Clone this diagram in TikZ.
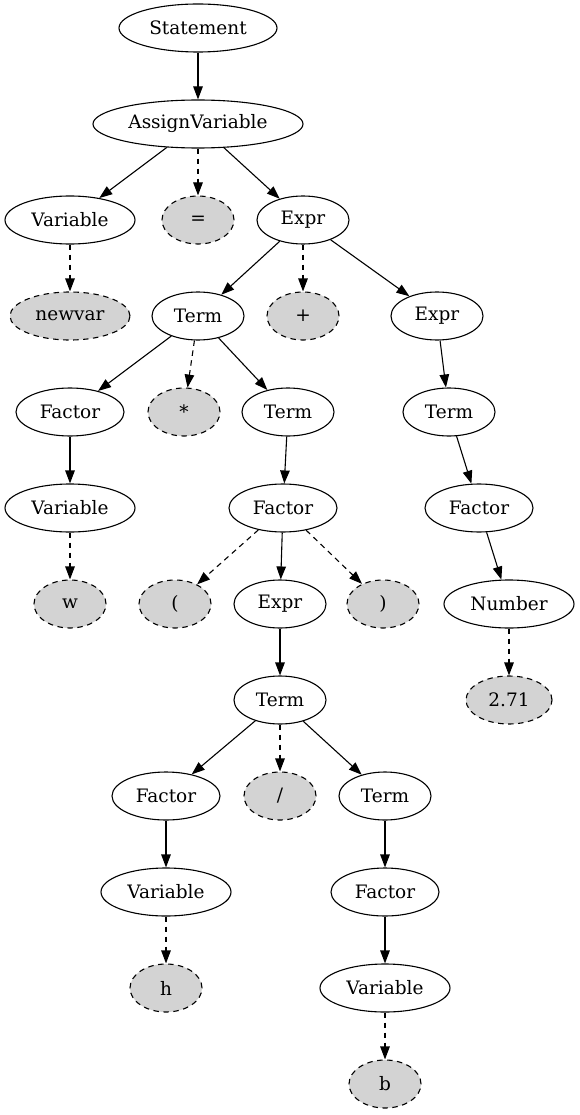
\documentclass[tikz,border=0pt]{standalone}
\usepackage{fontspec}
\setmainfont{DejaVu Serif}
\usetikzlibrary{shapes.geometric,arrows.meta}

\tikzset{
  nt/.style={ellipse, draw, line width=1.1pt, inner sep=0pt, minimum height=48pt},
  tok/.style={nt, fill=lightgray, dash pattern=on 5.5pt off 4.5pt},
  edge/.style={line width=1.1pt, -{Triangle[length=13pt,width=9.5pt]}},
  tokedge/.style={edge, dash pattern=on 5.5pt off 4.5pt},
}
\definecolor{lightgray}{HTML}{D3D3D3}

\begin{document}
\begin{tikzpicture}[x=1pt, y=-1pt, font=\fontsize{18.5}{21}\selectfont]
  \useasboundingbox (0, 0) rectangle (579, 1115);

  % nodes, row by row
  \node[nt, minimum width=158pt] (stmt) at (198, 28) {Statement};
  \node[nt, minimum width=210pt] (assign) at (198, 124) {AssignVariable};

  \node[nt, minimum width=130pt] (var1) at (70, 220) {Variable};
  \node[tok, minimum width=72pt] (eq) at (198, 220) {=};
  \node[nt, minimum width=92pt] (expr1) at (303, 220) {Expr};

  \node[tok, minimum width=120pt] (newvar) at (70, 316) {newvar};
  \node[nt, minimum width=92pt] (term1) at (198, 316) {Term};
  \node[tok, minimum width=72pt] (plus) at (303, 316) {+};
  \node[nt, minimum width=92pt] (expr2) at (437, 316) {Expr};

  \node[nt, minimum width=108pt] (fac1) at (70, 412) {Factor};
  \node[tok, minimum width=72pt] (star) at (184, 412) {*};
  \node[nt, minimum width=92pt] (term2) at (288, 412) {Term};
  \node[nt, minimum width=92pt] (term3) at (449, 412) {Term};

  \node[nt, minimum width=130pt] (var2) at (70, 508) {Variable};
  \node[nt, minimum width=108pt] (fac2) at (283, 508) {Factor};
  \node[nt, minimum width=108pt] (fac3) at (479, 508) {Factor};

  \node[tok, minimum width=72pt] (w) at (70, 604) {w};
  \node[tok, minimum width=72pt] (lpar) at (175, 604) {(};
  \node[nt, minimum width=92pt] (expr3) at (280, 604) {Expr};
  \node[tok, minimum width=72pt] (rpar) at (383, 604) {)};
  \node[nt, minimum width=130pt] (num) at (509, 604) {Number};

  \node[nt, minimum width=92pt] (term4) at (280, 700) {Term};
  \node[tok, minimum width=86pt] (val) at (509, 700) {2.71};

  \node[nt, minimum width=108pt] (fac4) at (166, 796) {Factor};
  \node[tok, minimum width=72pt] (slash) at (280, 796) {/};
  \node[nt, minimum width=92pt] (term5) at (385, 796) {Term};

  \node[nt, minimum width=130pt] (var3) at (166, 892) {Variable};
  \node[nt, minimum width=108pt] (fac5) at (385, 892) {Factor};

  \node[tok, minimum width=72pt] (h) at (166, 988) {h};
  \node[nt, minimum width=130pt] (var4) at (385, 988) {Variable};

  \node[tok, minimum width=72pt] (b) at (385, 1084) {b};

  % edges
  \draw[edge] (stmt) -- (assign);
  \draw[edge] (assign) -- (var1);
  \draw[tokedge] (assign) -- (eq);
  \draw[edge] (assign) -- (expr1);
  \draw[tokedge] (var1) -- (newvar);
  \draw[edge] (expr1) -- (term1);
  \draw[tokedge] (expr1) -- (plus);
  \draw[edge] (expr1) -- (expr2);
  \draw[edge] (term1) -- (fac1);
  \draw[tokedge] (term1) -- (star);
  \draw[edge] (term1) -- (term2);
  \draw[edge] (expr2) -- (term3);
  \draw[edge] (fac1) -- (var2);
  \draw[edge] (term2) -- (fac2);
  \draw[edge] (term3) -- (fac3);
  \draw[tokedge] (var2) -- (w);
  \draw[tokedge] (fac2) -- (lpar);
  \draw[edge] (fac2) -- (expr3);
  \draw[tokedge] (fac2) -- (rpar);
  \draw[edge] (fac3) -- (num);
  \draw[edge] (expr3) -- (term4);
  \draw[tokedge] (num) -- (val);
  \draw[edge] (term4) -- (fac4);
  \draw[tokedge] (term4) -- (slash);
  \draw[edge] (term4) -- (term5);
  \draw[edge] (fac4) -- (var3);
  \draw[edge] (term5) -- (fac5);
  \draw[tokedge] (var3) -- (h);
  \draw[edge] (fac5) -- (var4);
  \draw[tokedge] (var4) -- (b);
\end{tikzpicture}
\end{document}
